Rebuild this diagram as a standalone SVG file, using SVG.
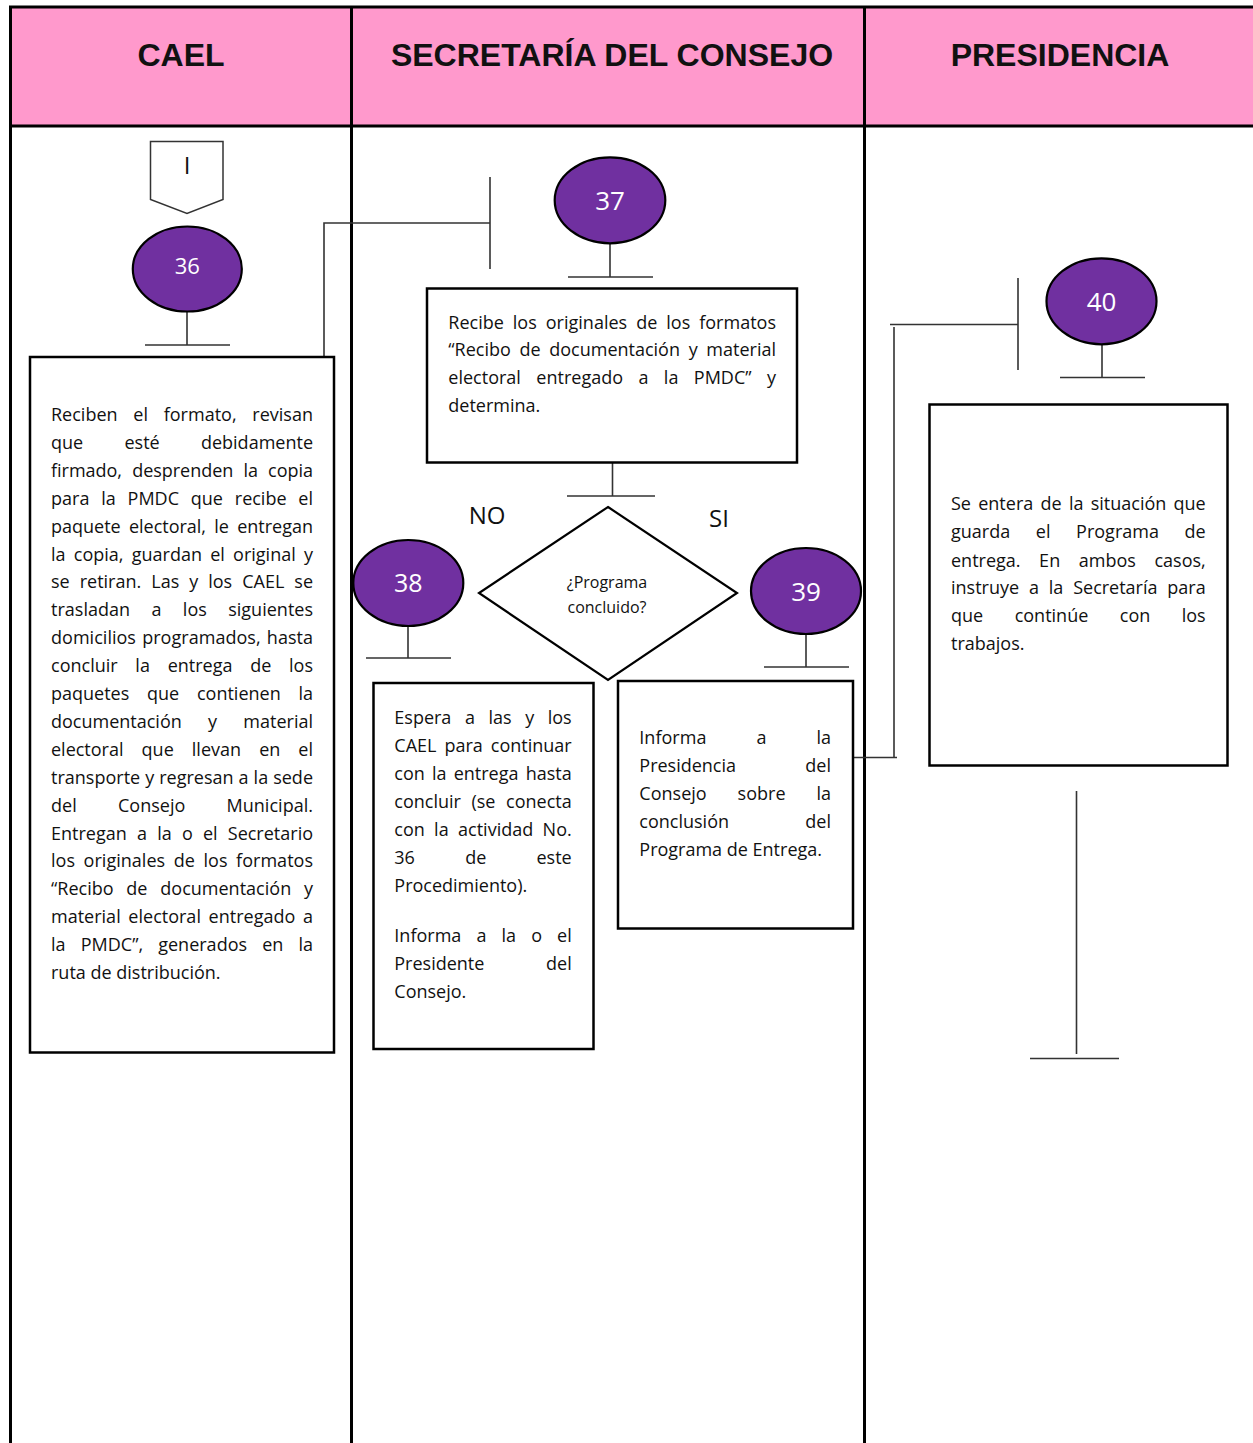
<svg xmlns="http://www.w3.org/2000/svg" width="1253" height="1443" viewBox="0 0 1253 1443">
<style>
.hdr{font-family:"Liberation Sans",Arial,sans-serif;font-weight:bold;font-size:32px;fill:#111;text-anchor:middle}
.t{font-family:"Open Sans","Noto Sans",sans-serif;font-size:18px;fill:#111}
.c{font-family:"Open Sans","Noto Sans",sans-serif;fill:#111;text-anchor:middle}
.num{font-family:"Open Sans","Noto Sans",sans-serif;fill:#fff;text-anchor:middle}
.box{fill:#fff;stroke:#000;stroke-width:2.5}
.act{fill:#7030A0;stroke:#000;stroke-width:2.2}
.ln{stroke:#333;stroke-width:1.6;fill:none}
.lane{stroke:#000;stroke-width:3;fill:none}
</style>
<rect x="0" y="0" width="1253" height="1443" fill="#fff"/>
<g id="header">
<rect x="10" y="7" width="1243" height="119" fill="#FF99CC"/>
<path class="lane" d="M10.5,7 H1253 M10,126 H1253 M10.5,5.5 V1443 M351.5,7 V1443 M864.5,7 V1443"/>
<text class="hdr" x="181" y="66">CAEL</text>
<text class="hdr" x="612" y="66">SECRETARÍA DEL CONSEJO</text>
<text class="hdr" x="1060" y="66">PRESIDENCIA</text>
</g>
<g id="connectors">
<path class="ln" d="M187,312 V345 M145,345 H230"/>
<path class="ln" d="M324,357 V223 H490 M490,177 V269"/>
<path class="ln" d="M610,243 V277 M568,277 H653"/>
<path class="ln" d="M612.5,463 V496 M567,496 H655"/>
<path class="ln" d="M408,626 V658 M366,658 H451"/>
<path class="ln" d="M806,634 V667 M764,667 H849"/>
<path class="ln" d="M853,757.5 H897 M894,757 V327 M890,324.5 H1018 M1018,278 V370"/>
<path class="ln" d="M1102,344 V377 M1060,377.5 H1145"/>
<path class="ln" d="M1076.5,791 V1054 M1030,1058.5 H1119"/>
</g>
<g id="offpage-I">
<path d="M150.5,141.5 H223 V199.5 L187,213.5 L150.5,199.5 Z" fill="#fff" stroke="#333" stroke-width="1.5"/>
<text class="c" x="187" y="174" font-size="24">I</text>
</g>
<g id="node-36">
<ellipse class="act" cx="187.3" cy="269" rx="54.5" ry="42.5"/>
<text class="num" x="187.3" y="273.5" font-size="22">36</text>
</g>
<g id="box-36">
<rect class="box" x="30" y="357" width="304" height="695.5"/>
<text class="t" x="51" y="421" textLength="262" lengthAdjust="spacing" word-spacing="11">Reciben el formato, revisan</text>
<text class="t" x="51" y="448.9" textLength="262" lengthAdjust="spacing" word-spacing="36.6">que esté debidamente</text>
<text class="t" x="51" y="476.8" textLength="262" lengthAdjust="spacing" word-spacing="5.5">firmado, desprenden la copia</text>
<text class="t" x="51" y="504.7" textLength="262" lengthAdjust="spacing" word-spacing="7.1">para la PMDC que recibe el</text>
<text class="t" x="51" y="532.6" textLength="262" lengthAdjust="spacing" word-spacing="3.6">paquete electoral, le entregan</text>
<text class="t" x="51" y="560.5" textLength="262" lengthAdjust="spacing" word-spacing="3.5">la copia, guardan el original y</text>
<text class="t" x="51" y="588.4" textLength="262" lengthAdjust="spacing" word-spacing="5.3">se retiran. Las y los CAEL se</text>
<text class="t" x="51" y="616.3" textLength="262" lengthAdjust="spacing" word-spacing="16.7">trasladan a los siguientes</text>
<text class="t" x="51" y="644.2" textLength="262" lengthAdjust="spacing" word-spacing="1.5">domicilios programados, hasta</text>
<text class="t" x="51" y="672.1" textLength="262" lengthAdjust="spacing" word-spacing="13">concluir la entrega de los</text>
<text class="t" x="51" y="700" textLength="262" lengthAdjust="spacing" word-spacing="13.1">paquetes que contienen la</text>
<text class="t" x="51" y="727.9" textLength="262" lengthAdjust="spacing" word-spacing="21.6">documentación y material</text>
<text class="t" x="51" y="755.8" textLength="262" lengthAdjust="spacing" word-spacing="13.4">electoral que llevan en el</text>
<text class="t" x="51" y="783.7" textLength="262" lengthAdjust="spacing" word-spacing="0.3">transporte y regresan a la sede</text>
<text class="t" x="51" y="811.6" textLength="262" lengthAdjust="spacing" word-spacing="36.5">del Consejo Municipal.</text>
<text class="t" x="51" y="839.5" textLength="262" lengthAdjust="spacing" word-spacing="5.5">Entregan a la o el Secretario</text>
<text class="t" x="51" y="867.4" textLength="262" lengthAdjust="spacing" word-spacing="3.9">los originales de los formatos</text>
<text class="t" x="51" y="895.3" textLength="262" lengthAdjust="spacing" word-spacing="8.1">“Recibo de documentación y</text>
<text class="t" x="51" y="923.2" textLength="262" lengthAdjust="spacing" word-spacing="3">material electoral entregado a</text>
<text class="t" x="51" y="951.1" textLength="262" lengthAdjust="spacing" word-spacing="10.4">la PMDC”, generados en la</text>
<text class="t" x="51" y="979">ruta de distribución.</text>
</g>
<g id="node-37">
<ellipse class="act" cx="610" cy="200.3" rx="55.3" ry="43"/>
<text class="num" x="610" y="210" font-size="26">37</text>
</g>
<g id="box-37">
<rect class="box" x="427" y="288.5" width="370" height="174"/>
<text class="t" x="448.3" y="328.5" textLength="327.7" lengthAdjust="spacing" word-spacing="4.3">Recibe los originales de los formatos</text>
<text class="t" x="448.3" y="356.3" textLength="327.7" lengthAdjust="spacing" word-spacing="4">“Recibo de documentación y material</text>
<text class="t" x="448.3" y="384.1" textLength="327.7" lengthAdjust="spacing" word-spacing="10.7">electoral entregado a la PMDC” y</text>
<text class="t" x="448.3" y="411.9">determina.</text>
</g>
<g id="decision">
<polygon points="608,507 737,593 608,680 479,593" fill="#fff" stroke="#000" stroke-width="2.2"/>
<text class="c" x="607" y="588" font-size="16">¿Programa</text>
<text class="c" x="607" y="613" font-size="16">concluido?</text>
<text class="c" x="487" y="523.5" font-size="24">NO</text>
<text class="c" x="719" y="526.5" font-size="24">SI</text>
</g>
<g id="node-38">
<ellipse class="act" cx="408.3" cy="583" rx="55" ry="43"/>
<text class="num" x="408.3" y="592" font-size="25">38</text>
</g>
<g id="box-38">
<rect class="box" x="373.5" y="683" width="220" height="366"/>
<text class="t" x="394.3" y="724.3" textLength="177.4" lengthAdjust="spacing" word-spacing="8.9">Espera a las y los</text>
<text class="t" x="394.3" y="752" textLength="177.4" lengthAdjust="spacing" word-spacing="3.3">CAEL para continuar</text>
<text class="t" x="394.3" y="780.3" textLength="177.4" lengthAdjust="spacing" word-spacing="2.5">con la entrega hasta</text>
<text class="t" x="394.3" y="807.7" textLength="177.4" lengthAdjust="spacing" word-spacing="5.9">concluir (se conecta</text>
<text class="t" x="394.3" y="836" textLength="177.4" lengthAdjust="spacing" word-spacing="4.6">con la actividad No.</text>
<text class="t" x="394.3" y="864.3" textLength="177.4" lengthAdjust="spacing" word-spacing="45.6">36 de este</text>
<text class="t" x="394.3" y="892.3">Procedimiento).</text>
<text class="t" x="394.3" y="941.7" textLength="177.4" lengthAdjust="spacing" word-spacing="10.4">Informa a la o el</text>
<text class="t" x="394.3" y="969.7" textLength="177.4" lengthAdjust="spacing" word-spacing="57">Presidente del</text>
<text class="t" x="394.3" y="997.7">Consejo.</text>
</g>
<g id="node-39">
<ellipse class="act" cx="806" cy="591" rx="55" ry="43"/>
<text class="num" x="806" y="600.5" font-size="26">39</text>
</g>
<g id="box-39">
<rect class="box" x="618" y="681" width="235" height="247.5"/>
<text class="t" x="639.3" y="744" textLength="191.7" lengthAdjust="spacing" word-spacing="45.3">Informa a la</text>
<text class="t" x="639.3" y="772" textLength="191.7" lengthAdjust="spacing" word-spacing="64.6">Presidencia del</text>
<text class="t" x="639.3" y="799.7" textLength="191.7" lengthAdjust="spacing" word-spacing="26.2">Consejo sobre la</text>
<text class="t" x="639.3" y="827.7" textLength="191.7" lengthAdjust="spacing" word-spacing="71.6">conclusión del</text>
<text class="t" x="639.3" y="856">Programa de Entrega.</text>
</g>
<g id="node-40">
<ellipse class="act" cx="1101.5" cy="301.3" rx="55" ry="43"/>
<text class="num" x="1101.5" y="310.5" font-size="26">40</text>
</g>
<g id="box-40">
<rect class="box" x="929.5" y="404.5" width="298" height="361"/>
<text class="t" x="951" y="510" textLength="254.7" lengthAdjust="spacing" word-spacing="2.6">Se entera de la situación que</text>
<text class="t" x="951" y="538.3" textLength="254.7" lengthAdjust="spacing" word-spacing="20.9">guarda el Programa de</text>
<text class="t" x="951" y="566.7" textLength="254.7" lengthAdjust="spacing" word-spacing="13.9">entrega. En ambos casos,</text>
<text class="t" x="951" y="594.3" textLength="254.7" lengthAdjust="spacing" word-spacing="5.2">instruye a la Secretaría para</text>
<text class="t" x="951" y="621.7" textLength="254.7" lengthAdjust="spacing" word-spacing="26.8">que continúe con los</text>
<text class="t" x="951" y="650">trabajos.</text>
</g>
</svg>
